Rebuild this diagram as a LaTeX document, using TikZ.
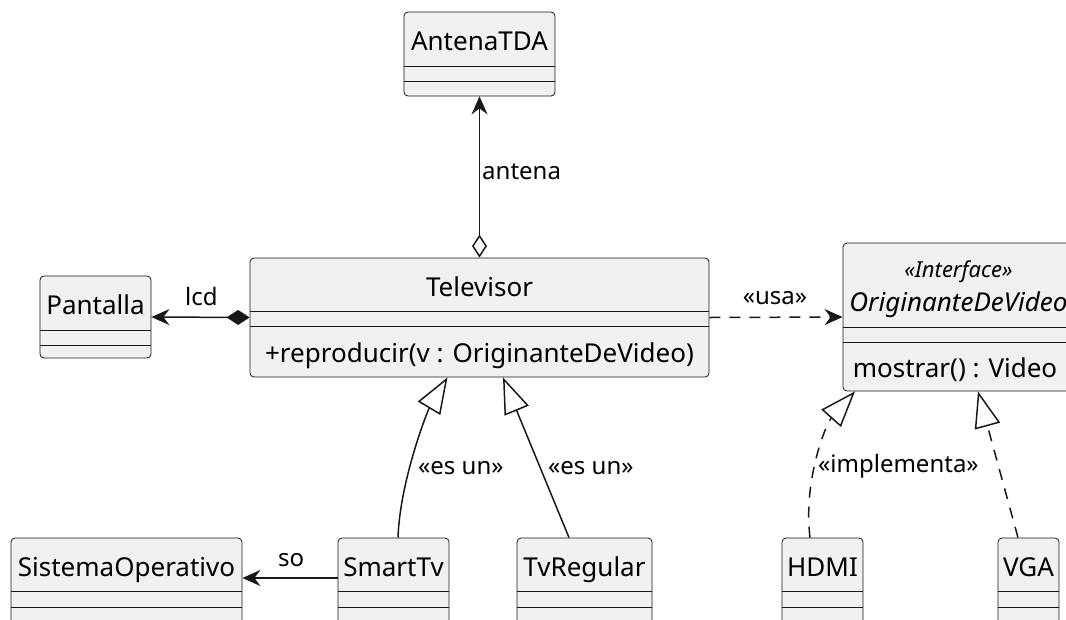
\documentclass[tikz,border=0pt]{standalone}
\usepackage{fontspec}
\setmainfont{Noto Sans}
\usetikzlibrary{arrows.meta}
\definecolor{boxfill}{HTML}{F1F1F1}
\definecolor{ink}{HTML}{181818}
\begin{document}
\begin{tikzpicture}[x=1pt,y=-1pt,
  cls/.style={draw=ink, fill=boxfill, rounded corners=4pt, line width=0.8pt, inner sep=0pt},
  txt/.style={inner sep=0pt, anchor=base, font=\fontsize{26}{30}\selectfont},
  lbl/.style={inner sep=0pt, anchor=base west, font=\fontsize{24}{28}\selectfont},
  stereo/.style={inner sep=0pt, anchor=base, font=\fontsize{22}{26}\selectfont\itshape},
  sep/.style={draw=ink, line width=0.8pt},
  link/.style={draw=ink, line width=1.5pt},
  nav/.style={-{Stealth[length=18pt,width=16pt,inset=6pt]}},
  gen/.style={-{Triangle[open,length=36pt,width=26pt]}},
  dashline/.style={dash pattern=on 11pt off 9pt}
]
\useasboundingbox (0,0) rectangle (1066,619);

% class boxes
\node[cls, minimum width=151pt, minimum height=84pt]  (ant)  at (479.5,54)  {};
\node[cls, minimum width=111pt, minimum height=82pt]  (pan)  at (95.5,317)  {};
\node[cls, minimum width=459pt, minimum height=119pt] (tv)   at (479.5,317.5) {};
\node[cls, minimum width=231pt, minimum height=148pt] (ifc)  at (958.5,317) {};
\node[cls, minimum width=231pt, minimum height=86pt]  (so)   at (126.5,581) {};
\node[cls, minimum width=111pt, minimum height=86pt]  (st)   at (393.5,581) {};
\node[cls, minimum width=135pt, minimum height=86pt]  (reg)  at (584.5,581) {};
\node[cls, minimum width=81pt,  minimum height=86pt]  (hdmi) at (822.5,581) {};
\node[cls, minimum width=61pt,  minimum height=86pt]  (vga)  at (1028.5,581) {};

% class names and members
\node[txt] (tant)  at (479.5,50)  {AntenaTDA};
\node[txt] (tpan)  at (95.5,314)  {Pantalla};
\node[txt] (ttv)   at (479.5,296) {Televisor};
\node[txt] (mtv)   at (479.5,362) {+reproducir(v : OriginanteDeVideo)};
\node[stereo] (sifc) at (958.5,277) {«Interface»};
\node[txt, font=\fontsize{26}{30}\selectfont\itshape] (tifc) at (958.5,311) {OriginanteDeVideo};
\node[txt] (mifc)  at (955,377) {mostrar() : Video};
\node[txt] (tso)   at (126.5,576) {SistemaOperativo};
\node[txt] (tst)   at (393.5,576) {SmartTv};
\node[txt] (treg)  at (584.5,576) {TvRegular};
\node[txt] (thdmi) at (822.5,576) {HDMI};
\node[txt] (tvga)  at (1028.5,576) {VGA};

% compartment separators
\foreach \n/\a/\b in {ant/66/81, pan/330/345, tv/311/326, ifc/327/342,
                      so/591/607, st/591/607, reg/591/607, hdmi/591/607, vga/591/607} {
  \draw[sep] (\n.west |- 0,\a) -- (\n.east |- 0,\a);
  \draw[sep] (\n.west |- 0,\b) -- (\n.east |- 0,\b);
}

% aggregation: Televisor o-> AntenaTDA
\draw[link, {Stealth[length=18pt,width=16pt,inset=6pt]}-{Diamond[open,length=23pt,width=15pt]}]
  (ant.south) -- (tv.north);
\node[lbl] (lant) at (482,179) {antena};

% composition: Televisor *-> Pantalla
\draw[link, {Stealth[length=18pt,width=16pt,inset=6pt]}-{Diamond[length=23pt,width=15pt]}]
  (pan.east) -- (tv.west);
\node[lbl] (llcd) at (185,305) {lcd};

% dependency: Televisor ..> OriginanteDeVideo
\draw[link, dashline, nav] (tv.east) -- (ifc.west);
\node[lbl, anchor=base] (lusa) at (775,304) {«usa»};

% generalisations
\draw[link, gen] ([xshift=4.5pt]st.north) .. controls (400,480) and (428,410) .. ([xshift=-32pt]tv.south);
\node[lbl] (les1) at (418,474) {«es un»};
\draw[link, gen] ([xshift=-15.5pt]reg.north) -- ([xshift=23.5pt]tv.south);
\node[lbl] (les2) at (548,474) {«es un»};

% realisations
\draw[link, dashline, gen] ([xshift=-12.5pt]hdmi.north) .. controls (803,480) and (826,424) .. ([xshift=-103.5pt]ifc.south);
\node[lbl] (limp) at (818,472) {«implementa»};
\draw[link, dashline, gen] ([xshift=-10.5pt]vga.north) -- ([xshift=19.5pt]ifc.south);

% association: SmartTv -> SistemaOperativo
\draw[link, nav] (st.west |- 0,578) -- (so.east |- 0,578);
\node[lbl] (lso) at (278,566) {so};
\end{tikzpicture}
\end{document}
